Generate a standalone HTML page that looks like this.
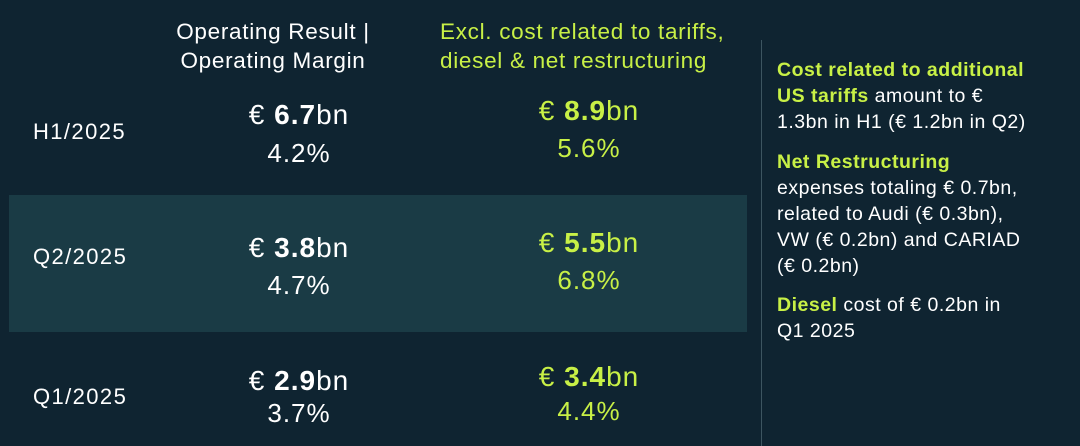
<!DOCTYPE html>
<html><head><style>
body{margin:0;width:1080px;height:446px;background:#0f2431;font-family:"Liberation Sans",sans-serif;color:#fff;position:relative;overflow:hidden}
.a{position:absolute;white-space:nowrap}
.c{transform:translateX(-50%);text-align:center}
.g{color:#c8f046}
.band{position:absolute;left:9px;top:195px;width:738px;height:137px;background:#1a3b45}
.vl{position:absolute;left:761px;top:40px;width:1px;height:406px;background:#3d5560}
.h{font-size:22.5px;line-height:29px;letter-spacing:0.7px}
.v{font-size:28px;line-height:32px;letter-spacing:1px}
.p{font-size:26px;line-height:30px;letter-spacing:1px}
.l{font-size:22px;left:33px;letter-spacing:1.4px}
.r{left:777px;font-size:19.5px;line-height:26px;letter-spacing:0.5px}
b{font-weight:bold}
</style></head><body>
<div class="band"></div><div class="vl"></div>
<div class="a h c" style="left:273px;top:17px">Operating Result |<br>Operating Margin</div>
<div class="a h g" style="left:440px;top:17px">Excl. cost related to tariffs,<br>diesel &amp; net restructuring</div>

<div class="a l" style="top:119px">H1/2025</div>
<div class="a v c" style="left:299px;top:99px">€ <b>6.7</b>bn</div>
<div class="a p c" style="left:299px;top:138px">4.2%</div>
<div class="a v c g" style="left:589px;top:95px">€ <b>8.9</b>bn</div>
<div class="a p c g" style="left:589px;top:133px">5.6%</div>

<div class="a l" style="top:244px">Q2/2025</div>
<div class="a v c" style="left:299px;top:232px">€ <b>3.8</b>bn</div>
<div class="a p c" style="left:299px;top:270px">4.7%</div>
<div class="a v c g" style="left:589px;top:227px">€ <b>5.5</b>bn</div>
<div class="a p c g" style="left:589px;top:265px">6.8%</div>

<div class="a l" style="top:384px">Q1/2025</div>
<div class="a v c" style="left:299px;top:365px">€ <b>2.9</b>bn</div>
<div class="a p c" style="left:299px;top:398px">3.7%</div>
<div class="a v c g" style="left:589px;top:361px">€ <b>3.4</b>bn</div>
<div class="a p c g" style="left:589px;top:396px">4.4%</div>

<div class="a r" style="top:57px"><b class="g">Cost related to additional</b><br><b class="g">US tariffs</b> amount to €<br>1.3bn in H1 (€ 1.2bn in Q2)</div>
<div class="a r" style="top:149px"><b class="g">Net Restructuring</b><br>expenses totaling € 0.7bn,<br>related to Audi (€ 0.3bn),<br>VW (€ 0.2bn) and CARIAD<br>(€ 0.2bn)</div>
<div class="a r" style="top:292px"><b class="g">Diesel</b> cost of € 0.2bn in<br>Q1 2025</div>
</body></html>
